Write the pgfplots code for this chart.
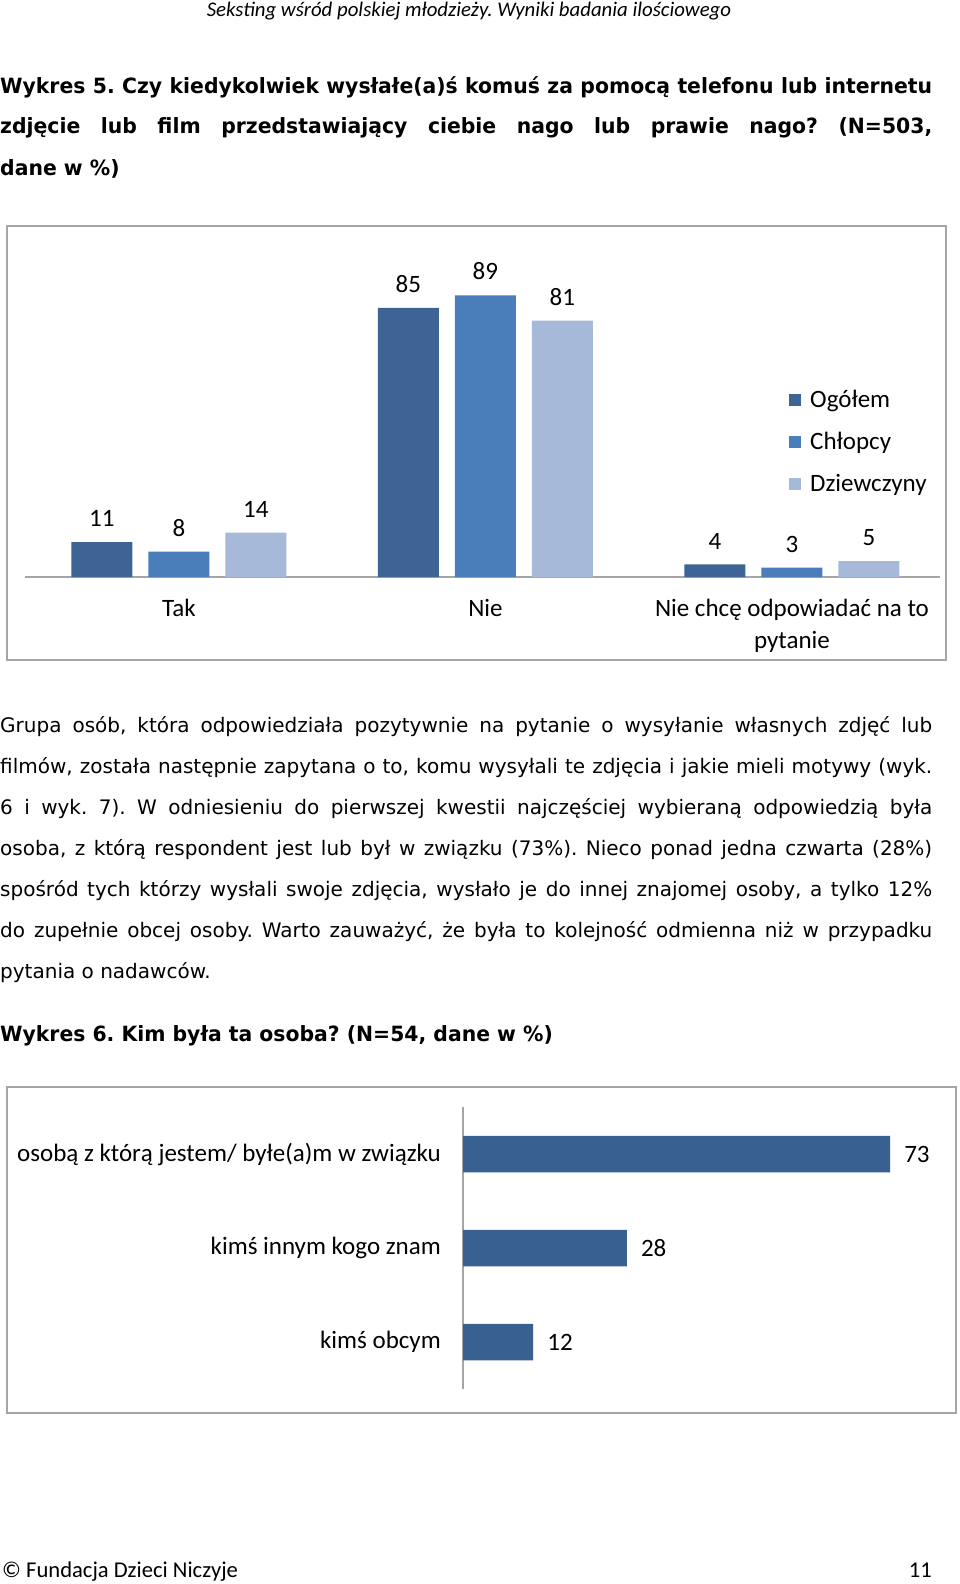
\documentclass[border=0pt]{standalone}
\usepackage{fontspec}
\usepackage{pgfplots}
\pgfplotsset{compat=1.18}
\setmainfont{DejaVu Sans}
\newfontfamily\bodyfont{DejaVu Sans}
\newfontfamily\titlefont{DejaVu Sans}[FakeStretch=0.97]
\newfontfamily\chfont{Carlito}
\definecolor{cA}{HTML}{3E6496}
\definecolor{cB}{HTML}{4A7EBB}
\definecolor{cC}{HTML}{A7B9D9}
\definecolor{cD}{HTML}{386192}
\definecolor{frm}{HTML}{A6A6A6}
\newcommand{\jl}[1]{\makebox[932pt][s]{#1}}
\frenchspacing
\begin{document}
\begin{tikzpicture}
\useasboundingbox[fill=white] (0pt,0pt) rectangle (960pt,-1584pt);
% header
\node[anchor=base,inner sep=0pt] at (469pt,-17pt) {\chfont\itshape\fontsize{20.8}{24}\selectfont Seksting wśród polskiej młodzieży. Wyniki badania ilościowego};
% title 5
\begin{scope}[every node/.style={anchor=base west,inner sep=0pt,font=\titlefont\bfseries\fontsize{21}{25}\selectfont}]
\node at (0pt,-94pt) {\jl{Wykres 5. Czy kiedykolwiek wysłałe(a)ś komuś za pomocą telefonu lub internetu}};
\node at (0pt,-134pt) {\jl{zdjęcie lub film przedstawiający ciebie nago lub prawie nago? (N=503,}};
\node at (0pt,-175pt) {dane w \%)};
\node at (0pt,-1041pt) {Wykres 6. Kim była ta osoba? (N=54, dane w \%)};
\end{scope}
% body
\begin{scope}[every node/.style={anchor=base west,inner sep=0pt,font=\bodyfont\fontsize{20}{24}\selectfont}]
\node at (0pt,-732pt) {\jl{Grupa osób, która odpowiedziała pozytywnie na pytanie o wysyłanie własnych zdjęć lub}};
\node at (0pt,-773pt) {\jl{filmów, została następnie zapytana o to, komu wysyłali te zdjęcia i jakie mieli motywy (wyk.}};
\node at (0pt,-814pt) {\jl{6 i wyk. 7). W odniesieniu do pierwszej kwestii najczęściej wybieraną odpowiedzią była}};
\node at (0pt,-855pt) {\jl{osoba, z którą respondent jest lub był w związku (73\%). Nieco ponad jedna czwarta (28\%)}};
\node at (0pt,-896pt) {\jl{spośród tych którzy wysłali swoje zdjęcia, wysłało je do innej znajomej osoby, a tylko 12\%}};
\node at (0pt,-937pt) {\jl{do zupełnie obcej osoby. Warto zauważyć, że była to kolejność odmienna niż w przypadku}};
\node at (0pt,-978pt) {pytania o nadawców.};
\end{scope}
% frames
\draw[frm, line width=2pt] (7pt,-226pt) rectangle (946pt,-660pt);
\draw[frm, line width=2pt] (7pt,-1087pt) rectangle (956pt,-1413pt);
% chart 1
\begin{axis}[
  at={(25pt,-577pt)}, anchor=south west,
  width=915pt, height=316.5pt, scale only axis,
  xmin=-0.502, xmax=2.483, ymin=0, ymax=100,
  ybar=16pt, bar width=61pt,
  axis x line=bottom, axis y line=none,
  x axis line style={-, draw=frm, line width=1.5pt},
  xtick={0,1,2}, major tick length=0pt,
  xticklabels={Tak, Nie, {Nie chcę odpowiadać na to\\pytanie}},
  xticklabel style={font=\chfont\fontsize{25}{32}\selectfont, align=center, anchor=north, inner sep=0pt, yshift=-22pt},
  ytick=\empty,
  nodes near coords,
  /pgf/number format/assume math mode=true,
  every node near coord/.append style={font=\chfont\fontsize{25}{28}\selectfont, anchor=south, inner sep=0pt, yshift=15pt},
  legend style={at={(0.835,0.588)}, anchor=north west, draw=none, fill=none, inner sep=0pt,
    font=\chfont\fontsize{25}{28}\selectfont, row sep=20pt,
    nodes={text height=15pt, text depth=5pt, inner sep=1pt}},
  legend cell align=left,
  legend image code/.code={\fill[#1] (0pt,-4pt) rectangle (12pt,8pt);},
]
\addplot[fill=cA, draw=none] coordinates {(0,11) (1,85) (2,4)};
\addplot[fill=cB, draw=none] coordinates {(0,8) (1,89) (2,3)};
\addplot[fill=cC, draw=none] coordinates {(0,14) (1,81) (2,5)};
\legend{\hspace{8pt}Ogółem, \hspace{8pt}Chłopcy, \hspace{8pt}Dziewczyny}
\end{axis}
% chart 2
\begin{axis}[
  at={(463pt,-1389pt)}, anchor=south west,
  width=468pt, height=282pt, scale only axis,
  xmin=0, xmax=80, ymin=-0.5, ymax=2.5,
  xbar, bar width=36.5pt,
  axis y line=left, axis x line=none,
  y axis line style={-, draw=frm, line width=1.5pt},
  ytick={0,1,2}, major tick length=0pt,
  yticklabels={kimś obcym, kimś innym kogo znam, osobą z którą jestem/ byłe(a)m w związku},
  yticklabel style={font=\chfont\fontsize{25}{28}\selectfont, anchor=east, inner sep=0pt, xshift=-22pt},
  xtick=\empty,
  nodes near coords,
  /pgf/number format/assume math mode=true,
  every node near coord/.append style={font=\chfont\fontsize{25}{28}\selectfont, anchor=west, inner sep=0pt, xshift=14pt},
]
\addplot[fill=cD, draw=none] coordinates {(12,0) (28,1) (73,2)};
\end{axis}
% footer
\node[anchor=base west, inner sep=0pt] at (2pt,-1577pt) {\chfont\fontsize{22.6}{26}\selectfont © Fundacja Dzieci Niczyje};
\node[anchor=base east, inner sep=0pt] at (932pt,-1577pt) {\chfont\fontsize{22.6}{26}\selectfont 11};
\end{tikzpicture}
\end{document}
